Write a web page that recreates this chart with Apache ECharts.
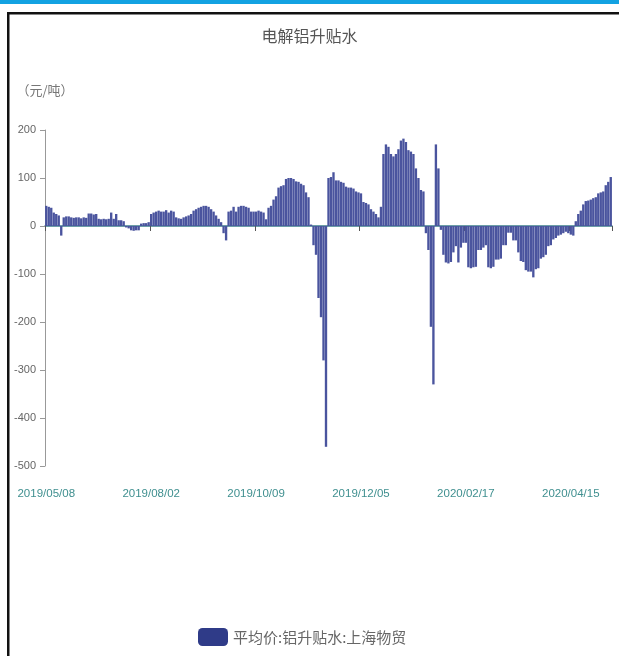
<!DOCTYPE html>
<html>
<head>
<meta charset="utf-8">
<script src="https://cdn.jsdelivr.net/npm/echarts@6/dist/echarts.min.js"></script>
<style>
html,body{margin:0;padding:0;background:#fff;}
#chart{width:619px;height:656px;}
</style>
</head>
<body>
<div id="chart"></div>
<script>
// Trading dates by month (category axis)
const monthDays = [
  ["2019/05", "08 09 10 13 14 15 16 17 20 21 22 23 24 27 28 29 30 31"],
  ["2019/06", "03 05 10 12 14 17 19 21 24 26 28"],
  ["2019/07", "01 03 05 08 10 12 15 17 19 22 24 26 29"],
  ["2019/08", "02 05 06 07 08 09 12 13 14 15 16 19 20 21 22 23 26 27 28 29 30"],
  ["2019/09", "02 03 04 05 06 09 10 11 12 16 17 18 19 20 23 24 25 26 27 30"],
  ["2019/10", "08 09 10 11 12 14 15 16 17 18 21 22 23 24 25 28 29 30 31"],
  ["2019/11", "01 04 05 06 07 08 11 12 13 14 15 18 19 20 21 22 25 26 27 28 29"],
  ["2019/12", "02 03 04 05 06 09 10 11 12 13 16 17 18 19 20 23 24 25 26 27 30"],
  ["2020/01", "03 06 07 08 09 10 13 14 15 16 17 20 21 22"],
  ["2020/02", "03 04 05 06 07 10 11 12 13 14 17 18 19 20 21 24 25 26 27 28"],
  ["2020/03", "02 03 04 05 06 09 10 11 12 13 16 17 18 19 20 23 24 25 26 27 30 31"],
  ["2020/04", "01 02 03 06 07 08 09 10 13 14 15 16 17 20 21 22 23 24 27 28 29 30"],
  ["2020/05", "06 07 08 11 12"]
];
const categories = [];
monthDays.forEach(function (m) {
  m[1].split(" ").forEach(function (d) { categories.push(m[0] + "/" + d); });
});

// 平均价:铝升贴水:上海物贸 (元/吨)
const premiumValues = [
  42, 40, 38, 28, 25, 22, -20, 18, 20, 20,
  18, 17, 18, 18, 16, 18, 17, 26, 26, 24,
  25, 15, 14, 15, 14, 15, 28, 15, 25, 12,
  12, 10, -3, -5, -9, -10, -9, -9, 5, 6,
  6, 8, 25, 28, 30, 32, 30, 30, 33, 28,
  32, 30, 18, 16, 15, 18, 20, 22, 25, 32,
  35, 38, 40, 42, 42, 40, 35, 30, 22, 15,
  8, -15, -30, 30, 32, 40, 30, 40, 42, 42,
  40, 38, 30, 30, 30, 32, 30, 28, 14, 38,
  42, 55, 62, 80, 83, 85, 98, 100, 100, 98,
  93, 92, 88, 85, 70, 60, 3, -40, -60, -150,
  -190, -280, -460, 100, 102, 112, 95, 95, 92, 90,
  82, 80, 80, 78, 72, 70, 68, 50, 48, 45,
  35, 30, 25, 18, 40, 150, 170, 165, 150, 145,
  150, 160, 178, 182, 175, 158, 155, 150, 120, 100,
  75, 72, -15, -50, -210, -330, 170, 120, -8, -60,
  -76, -78, -75, -55, -42, -76, -45, -35, -35, -86,
  -88, -86, -85, -50, -50, -45, -40, -86, -88, -85,
  -70, -70, -68, -40, -40, -14, -14, -30, -30, -55,
  -73, -75, -92, -95, -95, -107, -90, -88, -68, -65,
  -60, -42, -40, -28, -25, -20, -18, -15, -12, -15,
  -18, -20, 10, 25, 32, 45, 52, 53, 55, 58,
  60, 68, 70, 72, 85, 92, 102
];

const titleText = "电解铝升贴水";
const unitText = "（元/吨）";
const seriesName = "平均价:铝升贴水:上海物贸";
const yMin = -500, yMax = 200, yStep = 100;
const labelEvery = 41;

const chart = echarts.init(document.getElementById("chart"), null, { renderer: "canvas" });
chart.setOption({
  backgroundColor: "#ffffff",
  animation: false,
  textStyle: { fontFamily: "'Liberation Sans', 'Noto Sans CJK SC', sans-serif" },
  graphic: [
    { type: "rect", shape: { x: 0, y: 0, width: 619, height: 4 }, style: { fill: "#12a2e2" }, silent: true },
    { type: "rect", shape: { x: 7, y: 12, width: 612, height: 2.5 }, style: { fill: "#111" }, silent: true },
    { type: "rect", shape: { x: 7, y: 12, width: 2.5, height: 644 }, style: { fill: "#111" }, silent: true }
  ],
  title: {
    text: titleText,
    left: "center",
    top: 23,
    textStyle: { fontSize: 16, fontWeight: "normal", color: "#555", fontFamily: "'Noto Sans CJK SC', sans-serif" }
  },
  legend: {
    data: [{ name: seriesName, itemStyle: { color: "#2f3b88" } }],
    left: 193,
    top: 623,
    itemWidth: 30,
    itemHeight: 18,
    itemGap: 10,
    icon: "roundRect",
    textStyle: { fontSize: 15, color: "#666", fontFamily: "'Noto Sans CJK SC', sans-serif" }
  },
  grid: { left: 45, right: 7, top: 130, bottom: 190 },
  xAxis: [
    {
      type: "category",
      data: categories,
      position: "bottom",
      axisLine: { onZero: true, lineStyle: { color: "#3d7f8a", width: 1.5 } },
      axisTick: { show: true, interval: labelEvery, length: 5, lineStyle: { color: "#555" } },
      axisLabel: { show: false },
      splitLine: { show: false }
    },
    {
      type: "category",
      data: categories,
      position: "bottom",
      axisLine: { show: false, onZero: false },
      axisTick: { show: false },
      axisLabel: { interval: labelEvery, color: "#3f8f8f", fontSize: 11.5, margin: 22 },
      splitLine: { show: false }
    }
  ],
  yAxis: {
    type: "value",
    min: yMin,
    max: yMax,
    interval: yStep,
    name: unitText,
    nameLocation: "end",
    nameGap: 33,
    nameTextStyle: { color: "#777", fontSize: 13, align: "center", verticalAlign: "bottom", fontFamily: "'Noto Sans CJK SC', sans-serif" },
    axisLine: { show: true, lineStyle: { color: "#999" } },
    axisTick: { show: true, length: 5, lineStyle: { color: "#999" } },
    axisLabel: { color: "#666", fontSize: 11, margin: 9 },
    splitLine: { show: false }
  },
  series: [
    {
      name: seriesName,
      type: "bar",
      xAxisIndex: 0,
      data: premiumValues,
      barCategoryGap: "6%",
      itemStyle: { color: "#4a549e" }
    }
  ]
});
</script>
</body>
</html>
